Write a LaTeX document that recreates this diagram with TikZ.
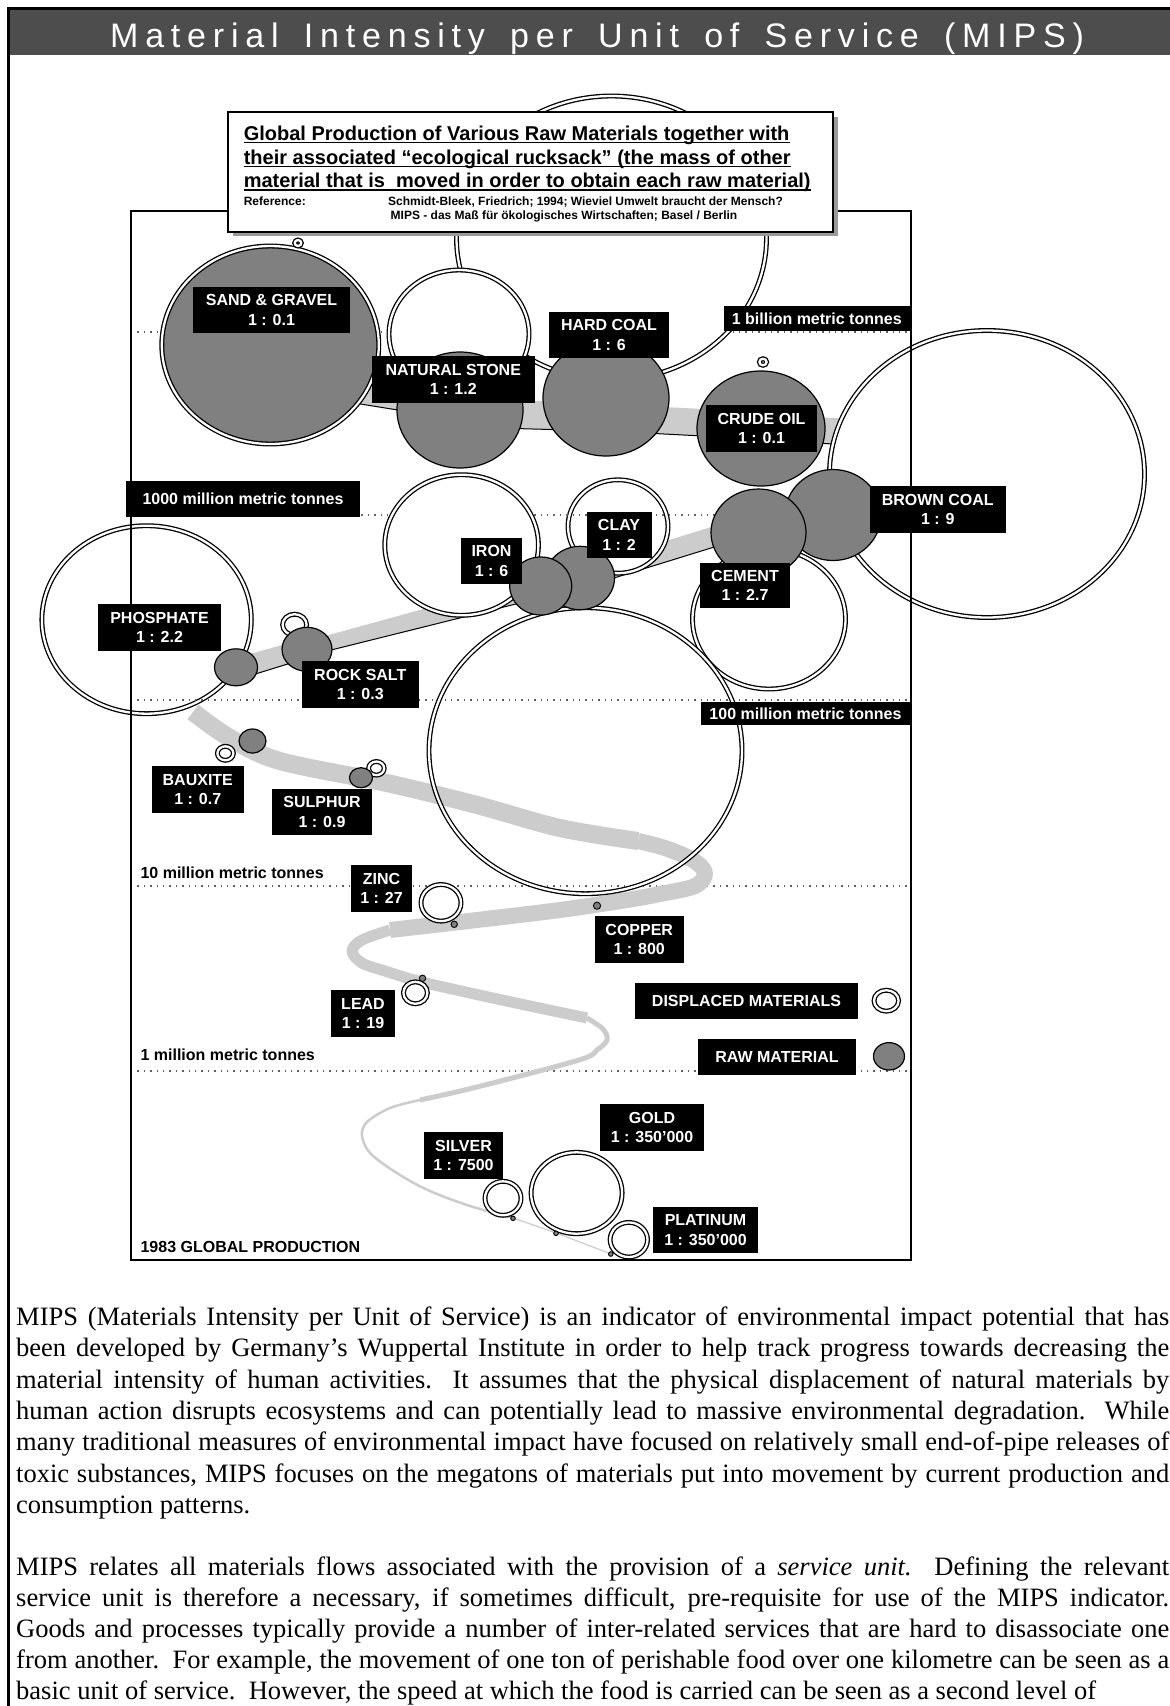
\documentclass[tikz,border=0pt]{standalone}
\usepackage{fontspec}
\setmainfont{Liberation Serif}
\newfontfamily\arial{Liberation Sans}
\newfontfamily\titlefont[LetterSpace=20]{Liberation Sans}
\usetikzlibrary{calc}
\definecolor{barcol}{HTML}{4D4D4D}
\definecolor{rawcol}{HTML}{808080}
\definecolor{bandcol}{HTML}{CCCCCC}
\definecolor{dotcol}{HTML}{606060}
\definecolor{shadowcol}{HTML}{9A9A9A}
\newcommand\tsp{\hspace{9pt} }

\tikzset{
  ring/.style={draw=black, line width=1.3pt, double=white, double distance=2.3pt, fill=white},
  rawdisc/.style={draw=black, line width=1.2pt, fill=rawcol},
  dotdisc/.style={draw=black, line width=0.9pt, fill=rawcol},
  band/.style={fill=bandcol},
  bandedge/.style={draw=black, line width=1pt},
  worm/.style={draw=bandcol, line cap=butt, line join=round},
  level/.style={draw=dotcol, line width=1.3pt, dash pattern=on 1.4pt off 5pt},
  lbl/.style={fill=black, text=white, font=\arial\bfseries\fontsize{16}{19.4}\selectfont,
              align=center, inner sep=0pt},
  plain/.style={font=\arial\bfseries\fontsize{16}{19}\selectfont, anchor=west, inner sep=0pt},
  htxt/.style={font=\arial\bfseries\fontsize{20}{24}\selectfont, anchor=base west, inner sep=0pt},
  rtxt/.style={font=\arial\bfseries\fontsize{12}{14}\selectfont, anchor=base west, inner sep=0pt},
  body/.style={font=\fontsize{26.5}{30.6}\selectfont, anchor=base west, inner sep=0pt},
}

\begin{document}
\begin{tikzpicture}[x=1pt,y=-1pt]
\useasboundingbox (0,0) rectangle (1170,1706);
\clip (0,0) rectangle (1170,1706);
\fill[white] (0,0) rectangle (1170,1706);

% page border and title bar
\fill[barcol] (9.75,9.75) rectangle (1170,55);
\draw[line width=2.5pt] (8.5,1706) -- (8.5,8.5) -- (1170,8.5);
\node[anchor=base west, inner sep=0pt, text=white,
      font=\titlefont\fontsize{34}{38}\selectfont] (title) at (110,47.2)
      {Material\tsp Intensity\tsp per\tsp Unit\tsp of\tsp Service\tsp (MIPS)};

% copper: displaced-material area (fill first, outline later)
\fill[white] (585.5,750.7) ellipse [x radius=156.5pt, y radius=143pt];

% lower production levels
\draw[level] (131,886) -- (911,886);
\draw[level] (131,1071) -- (911,1071);

% upper ribbon, piece by piece, with its dark lower edge
\fill[band] (300,368.3) -- (460,394) -- (460,420) -- (300,394.3) -- cycle;
\draw[bandedge] (300,394.3) -- (460,420);
\fill[band] (460,399) -- (606,403) -- (606,431) -- (460,427) -- cycle;
\draw[bandedge] (460,427) -- (606,431);
\fill[band] (606,404) -- (761,412) -- (761,439) -- (606,431) -- cycle;
\draw[bandedge] (606,431) -- (761,439);
\fill[band] (761,414) -- (870,420) -- (870,446) -- (761,440) -- cycle;
\draw[bandedge] (761,440) -- (870,446);
\fill[band] (770,508.8) -- (540,580) -- (540,600.8) -- (770,529.8) -- cycle;
\draw[bandedge] (770,529.8) -- (540,600.8);
\fill[band] (540,577) -- (307,641) -- (307,656) -- (540,598) -- cycle;
\draw[bandedge] (540,598) -- (307,656);
\fill[band] (307,638) -- (236,658) -- (236,680) -- (307,658) -- cycle;
\draw[bandedge] (307,658) -- (236,680);

% lower ribbon, narrowing step by step
\draw[worm, line width=18pt] plot[smooth, tension=0.55] coordinates
  {(193,712) (230,738) (280,761) (387,783) (477,805) (560,828) (638,841)};
\draw[worm, line width=16pt] plot[smooth, tension=0.55] coordinates
  {(638,841) (665,848) (693,860) (705,873) (695,886) (660,894) (627,900) (560,910) (477,920) (390,930)};
\draw[worm, line width=11pt] plot[smooth, tension=0.55] coordinates
  {(390,930) (362,940) (352,951) (362,963) (385,971) (422,982) (502,1000) (587,1018)};
\draw[worm, line width=5pt] plot[smooth, tension=0.55] coordinates
  {(587,1018) (603,1029) (607,1040) (597,1050) (579,1060) (477,1087) (420,1100)};
\draw[worm, line width=2.5pt] plot[smooth, tension=0.55] coordinates
  {(420,1100) (390,1108) (367,1122) (362,1136) (371,1154) (400,1175) (430,1191) (470,1206) (513,1218)};
\draw[worm, line width=1.2pt] plot[smooth, tension=0.55] coordinates
  {(513,1218) (556,1233) (611,1254)};

% phosphate and clay displaced areas
\draw[ring] (146.6,619.7) ellipse [x radius=104.7pt, y radius=94pt];
\draw[ring] (618,526.5) ellipse [x radius=50pt, y radius=46.7pt];

% upper production levels
\draw[level] (131,332) -- (911,332);
\draw[level] (131,515) -- (911,515);
\draw[level] (131,700) -- (911,700);

% cement displaced area, then copper outline
\draw[ring] (769,619) ellipse [x radius=76.5pt, y radius=70pt];
\draw[ring, fill=none] (585.5,750.7) ellipse [x radius=156.5pt, y radius=143pt];

% remaining displaced areas
\draw[ring] (611.5,238) ellipse [x radius=155pt, y radius=142pt];
\draw[ring] (987,474) ellipse [x radius=157.5pt, y radius=143.5pt];
\draw[ring] (459,334) ellipse [x radius=70pt, y radius=64pt];
\draw[ring] (461.6,545) ellipse [x radius=76.8pt, y radius=70.3pt];

% sand & gravel
\draw[ring, fill=rawcol] (270.3,345) ellipse [x radius=108.5pt, y radius=99pt];

% raw materials
\draw[rawdisc] (460,410) ellipse [x radius=63pt, y radius=58pt];
\draw[rawdisc] (606,398) ellipse [x radius=63pt, y radius=58pt];
\draw[rawdisc] (833,515) ellipse [x radius=48pt, y radius=45.5pt];
\draw[rawdisc] (761,428.5) ellipse [x radius=64pt, y radius=57.5pt];
\draw[rawdisc] (758.5,532.6) ellipse [x radius=47.5pt, y radius=43.6pt];
\draw[rawdisc] (580,578) ellipse [x radius=34.5pt, y radius=31.7pt];
\draw[rawdisc] (540.7,586) ellipse [x radius=31pt, y radius=29pt];
\draw[ring] (294.6,624.7) ellipse [x radius=12pt, y radius=10.5pt];
\draw[rawdisc] (307,649.3) ellipse [x radius=25pt, y radius=22pt];
\draw[rawdisc] (236,667.3) ellipse [x radius=21.5pt, y radius=18.5pt];
\draw[rawdisc] (252.5,741) ellipse [x radius=13.5pt, y radius=12pt];
\draw[ring] (225.4,753.3) ellipse [x radius=8pt, y radius=7pt];
\draw[ring] (376.4,768.3) ellipse [x radius=7.8pt, y radius=6.8pt];
\draw[rawdisc] (361,777.7) ellipse [x radius=11.5pt, y radius=10pt];

% small rucksacks
\draw[ring] (298,243) ellipse [x radius=3.3pt, y radius=3pt];
\draw[ring] (763,362) ellipse [x radius=3.6pt, y radius=3.3pt];

% metals
\draw[ring] (441,902.8) ellipse [x radius=20pt, y radius=18.3pt];
\draw[ring] (415.4,992.8) ellipse [x radius=12pt, y radius=11pt];
\draw[ring] (503,1198.3) ellipse [x radius=18pt, y radius=17pt];
\draw[ring] (576.6,1193) ellipse [x radius=45.5pt, y radius=40.7pt];
\draw[ring] (628.8,1239.7) ellipse [x radius=18.7pt, y radius=17.3pt];
\draw[dotdisc] (597,905.7) circle [radius=3.6pt];
\draw[dotdisc] (454.2,924.3) circle [radius=3.2pt];
\draw[dotdisc] (422.5,978.3) circle [radius=3.2pt];
\draw[dotdisc] (513,1218.3) circle [radius=2.3pt];
\draw[dotdisc] (556,1233.3) circle [radius=2.3pt];
\draw[dotdisc] (610.8,1254) circle [radius=2.3pt];

% legend symbols
\draw[ring] (886.3,1000.7) ellipse [x radius=12.3pt, y radius=10.5pt];
\draw[rawdisc] (889,1056.3) ellipse [x radius=15.5pt, y radius=13.7pt];

% chart frame
\draw[line width=1.8pt] (131,211) rectangle (911,1260);

% labels
\node[lbl, minimum width=157pt, minimum height=46pt] (sand) at (271.5,310) {SAND \& GRAVEL\\1 : 0.1};
\node[lbl, minimum width=162.5pt, minimum height=47pt] (natstone) at (453.25,379.5) {NATURAL STONE\\1 : 1.2};
\node[lbl, minimum width=120pt, minimum height=46pt] (hardcoal) at (609,335) {HARD COAL\\1 : 6};
\node[lbl, minimum width=186.5pt, minimum height=25pt] (billion) at (816.75,318.5) {1 billion metric tonnes};
\node[lbl, minimum width=111pt, minimum height=47pt] (crude) at (761.5,428.5) {CRUDE OIL\\1 : 0.1};
\node[lbl, minimum width=135.5pt, minimum height=47pt] (browncoal) at (937.75,509.5) {BROWN COAL\\1 : 9};
\node[lbl, minimum width=234pt, minimum height=36pt] (thousand) at (243,499) {1000 million metric tonnes};
\node[lbl, minimum width=61pt, minimum height=46pt] (iron) at (491.5,561) {IRON\\1 : 6};
\node[lbl, minimum width=65pt, minimum height=46pt] (clay) at (619,535) {CLAY\\1 : 2};
\node[lbl, minimum width=90pt, minimum height=45pt] (cement) at (745,585.5) {CEMENT\\1 : 2.7};
\node[lbl, minimum width=123pt, minimum height=47pt] (phosphate) at (159.5,627.5) {PHOSPHATE\\1 : 2.2};
\node[lbl, minimum width=116.6pt, minimum height=47pt] (rocksalt) at (360.3,684.5) {ROCK SALT\\1 : 0.3};
\node[lbl, minimum width=209pt, minimum height=23pt] (hundred) at (805.5,713.5) {100 million metric tonnes};
\node[lbl, minimum width=91.6pt, minimum height=47pt] (bauxite) at (197.8,789.5) {BAUXITE\\1 : 0.7};
\node[lbl, minimum width=100pt, minimum height=46pt] (sulphur) at (322,812) {SULPHUR\\1 : 0.9};
\node[lbl, minimum width=61pt, minimum height=47pt] (zinc) at (381.5,888.5) {ZINC\\1 : 27};
\node[lbl, minimum width=89.5pt, minimum height=47pt] (copper) at (639.25,939.5) {COPPER\\1 : 800};
\node[lbl, minimum width=64pt, minimum height=47pt] (lead) at (363,1013.5) {LEAD\\1 : 19};
\node[lbl, minimum width=223pt, minimum height=36pt] (displaced) at (746.5,1001) {DISPLACED MATERIALS};
\node[lbl, minimum width=158pt, minimum height=36pt] (rawmat) at (777,1057) {RAW MATERIAL};
\node[lbl, minimum width=104pt, minimum height=47pt] (gold) at (652,1127.5) {GOLD\\1 : 350’000};
\node[lbl, minimum width=79pt, minimum height=47pt] (silver) at (463.5,1155.5) {SILVER\\1 : 7500};
\node[lbl, minimum width=105pt, minimum height=46pt] (platinum) at (705.5,1230) {PLATINUM\\1 : 350’000};

\node[plain] (ten) at (140.4,872.7) {10 million metric tonnes};
\node[plain] (one) at (140.4,1054.7) {1 million metric tonnes};
\node[plain] (year) at (140.4,1247.3) {1983 GLOBAL PRODUCTION};

% heading box with shadow
\fill[shadowcol] (233,116.5) rectangle (837.6,235.7);
\node[draw, line width=1.8pt, fill=white, minimum width=605pt, minimum height=119.4pt,
      inner sep=0pt] (head) at (530.1,172) {};
\node[htxt] (h1) at (243.6,140) {Global Production of Various Raw Materials together with};
\node[htxt] (h2) at (243.6,164) {their associated “ecological rucksack” (the mass of other};
\node[htxt] (h3) at (243.6,187.5) {material that is~ moved in order to obtain each raw material)};
\foreach \h in {h1,h2,h3}
  \draw[line width=1.4pt] ([yshift=-2.6pt]\h.base west) -- ([yshift=-2.6pt]\h.base east);
\node[rtxt] (ref) at (243.6,205) {Reference:};
\node[rtxt] (ref1) at (388,205) {Schmidt-Bleek, Friedrich; 1994; Wieviel Umwelt braucht der Mensch?};
\node[rtxt] (ref2) at (390.5,219.3) {MIPS - das Maß für ökologisches Wirtschaften; Basel / Berlin};

% explanatory text
\node[body] (p1a) at (16,1325.5) {\makebox[1153pt][s]{MIPS (Materials Intensity per Unit of Service) is an indicator of environmental impact potential that has}};
\node[body] (p1b) at (16,1356.8) {\makebox[1153pt][s]{been developed by Germany’s Wuppertal Institute in order to help track progress towards decreasing the}};
\node[body] (p1c) at (16,1388.1) {\makebox[1153pt][s]{material intensity of human activities.\ \ It assumes that the physical displacement of natural materials by}};
\node[body] (p1d) at (16,1419.5) {\makebox[1153pt][s]{human action disrupts ecosystems and can potentially lead to massive environmental degradation.\ \ While}};
\node[body] (p1e) at (16,1450.8) {\makebox[1153pt][s]{many traditional measures of environmental impact have focused on relatively small end-of-pipe releases of}};
\node[body] (p1f) at (16,1482.2) {\makebox[1153pt][s]{toxic substances, MIPS focuses on the megatons of materials put into movement by current production and}};
\node[body] (p1g) at (16,1513.5) {consumption patterns.};
\node[body] (p2a) at (16,1575.5) {\makebox[1153pt][s]{MIPS relates all materials flows associated with the provision of a \textit{service unit.}\ \ Defining the relevant}};
\node[body] (p2b) at (16,1606.6) {\makebox[1153pt][s]{service unit is therefore a necessary, if sometimes difficult, pre-requisite for use of the MIPS indicator.}};
\node[body] (p2c) at (16,1637.7) {\makebox[1153pt][s]{Goods and processes typically provide a number of inter-related services that are hard to disassociate one}};
\node[body] (p2d) at (16,1668.8) {\makebox[1153pt][s]{from another.\ \ For example, the movement of one ton of perishable food over one kilometre can be seen as a}};
\node[body] (p2e) at (16,1699.9) {basic unit of service.\ \ However, the speed at which the food is carried can be seen as a second level of};
\end{tikzpicture}
\end{document}
